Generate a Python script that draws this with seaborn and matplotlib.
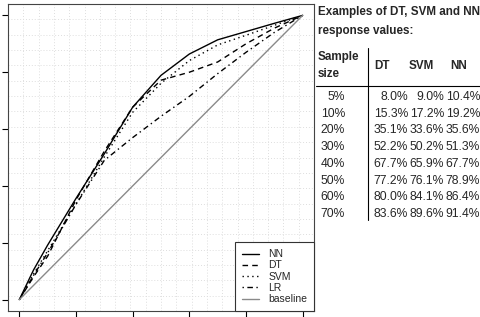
import numpy as np
import pandas as pd
import matplotlib
matplotlib.use("Agg")
import matplotlib.pyplot as plt
from matplotlib.lines import Line2D
import seaborn as sns

# cumulative response curves (fraction of sample vs fraction of responders)
sample_size = [0, 0.05, 0.1, 0.2, 0.3, 0.4, 0.5, 0.6, 0.7, 0.8, 0.9, 1.0]
nn = [0, 0.104, 0.192, 0.356, 0.513, 0.677, 0.789, 0.864, 0.914, 0.943, 0.972, 1.0]
dt = [0, 0.080, 0.153, 0.351, 0.522, 0.677, 0.772, 0.800, 0.836, 0.900, 0.955, 1.0]
svm = [0, 0.090, 0.172, 0.336, 0.502, 0.659, 0.761, 0.841, 0.896, 0.930, 0.965, 1.0]
lr = [0, 0.085, 0.165, 0.335, 0.490, 0.570, 0.645, 0.715, 0.795, 0.870, 0.940, 1.0]
baseline = sample_size

# table on the right
row_labels = ["5%", "10%", "20%", "30%", "40%", "50%", "60%", "70%"]
dt_vals = ["8.0%", "15.3%", "35.1%", "52.2%", "67.7%", "77.2%", "80.0%", "83.6%"]
svm_vals = ["9.0%", "17.2%", "33.6%", "50.2%", "65.9%", "76.1%", "84.1%", "89.6%"]
nn_vals = ["10.4%", "19.2%", "35.6%", "51.3%", "67.7%", "78.9%", "86.4%", "91.4%"]

sns.set_style("white")
plt.rcParams["font.family"] = ["Liberation Sans", "DejaVu Sans"]

W, H = 481, 317
fig = plt.figure(figsize=(W / 100, H / 100), dpi=100)
ax = fig.add_axes([8 / W, 1 - 311 / H, (314 - 8) / W, (311 - 4) / H])

series = [
    ("NN", nn, "black", "-"),
    ("DT", dt, "black", (0, (4, 3))),
    ("SVM", svm, "black", (0, (1, 2.5))),
    ("LR", lr, "black", (0, (1, 2.5, 4, 2.5))),
    ("baseline", baseline, "#8a8a8a", "-"),
]
for name, vals, col, ls in series:
    df = pd.DataFrame({"x": sample_size, "y": vals})
    sns.lineplot(data=df, x="x", y="y", ax=ax, color=col, linestyle=ls,
                 linewidth=1.0, label=name)

ax.set_xlim(-0.04, 1.04)
ax.set_ylim(-0.04, 1.04)
ax.set_xticks(np.arange(0, 1.01, 0.2))
ax.set_yticks(np.arange(0, 1.01, 0.2))
ax.set_xticklabels([])
ax.set_yticklabels([])
ax.set_xlabel("")
ax.set_ylabel("")
grid_pos = np.linspace(-0.04, 1.04, 21)
ax.set_xticks(grid_pos, minor=True)
ax.set_yticks(grid_pos, minor=True)
ax.tick_params(which="minor", length=0)
ax.tick_params(which="major", direction="out", length=4.5, width=0.8,
               color="black", left=True, bottom=True)
ax.grid(which="minor", color="#dedede", linestyle=(0, (1, 2)), linewidth=0.7)
ax.grid(which="major", visible=False)
ax.set_axisbelow(True)
for sp in ax.spines.values():
    sp.set_color("#444444")
    sp.set_linewidth(0.8)

leg = ax.legend(loc="lower right", borderaxespad=0, fancybox=False,
                frameon=True, edgecolor="#333333", framealpha=1,
                fontsize=7.5, handlelength=1.6, handletextpad=0.9,
                labelspacing=0.12, borderpad=0.65)
leg.get_frame().set_linewidth(0.8)


def fx(x):
    return x / W


def fy(y):
    return 1 - y / H


fs_title = 8.4
fs_row = 8.7
fig.text(fx(318), fy(12), "Examples of DT, SVM and NN", fontsize=fs_title,
         fontweight="bold", va="center", ha="left")
fig.text(fx(318), fy(31), "response values:", fontsize=fs_title,
         fontweight="bold", va="center", ha="left")
fig.text(fx(318), fy(57), "Sample", fontsize=fs_title, fontweight="bold", va="center")
fig.text(fx(318), fy(74), "size", fontsize=fs_title, fontweight="bold", va="center")
for lab, xc in [("DT", 382), ("SVM", 421), ("NN", 459)]:
    fig.text(fx(xc), fy(66), lab, fontsize=fs_title, fontweight="bold",
             va="center", ha="center")

fig.add_artist(Line2D([fx(316), fx(481)], [fy(86), fy(86)], color="black", lw=0.8))
fig.add_artist(Line2D([fx(368), fx(368)], [fy(48), fy(220)], color="black", lw=0.8))

for i, lab in enumerate(row_labels):
    y = fy(97 + i * 16.7)
    fig.text(fx(345), y, lab, fontsize=fs_row, va="center", ha="right")
    fig.text(fx(408), y, dt_vals[i], fontsize=fs_row, va="center", ha="right")
    fig.text(fx(444), y, svm_vals[i], fontsize=fs_row, va="center", ha="right")
    fig.text(fx(480), y, nn_vals[i], fontsize=fs_row, va="center", ha="right")

fig.savefig("out.png", dpi=100)
